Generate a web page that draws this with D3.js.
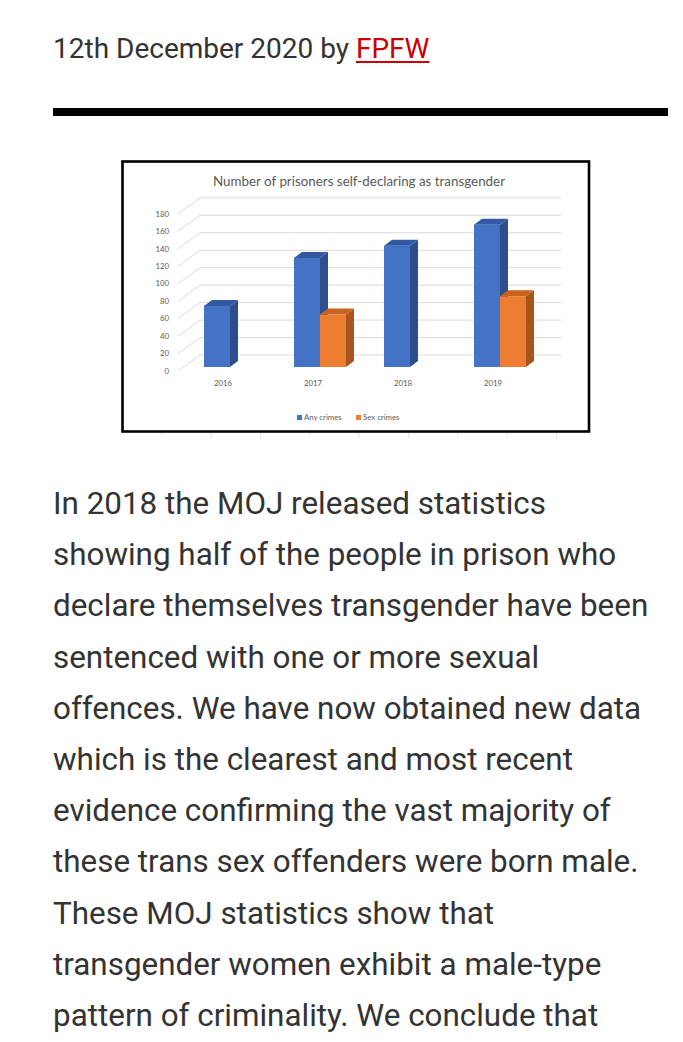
<!DOCTYPE html>
<html>
<head>
<meta charset="utf-8">
<script src="https://cdn.jsdelivr.net/npm/d3@7"></script>
<style>
  html, body { margin: 0; padding: 0; background: #fff; }
  body { width: 683px; height: 1042px; position: relative; overflow: hidden; font-family: Roboto, "Noto Sans", sans-serif; color: #333; }
  #meta { position: absolute; left: 53px; top: 31px; font-size: 28px; line-height: 36px; white-space: nowrap; }
  #meta a { color: #cc0000; text-decoration: underline; text-decoration-thickness: 2px; text-underline-offset: 3px; }
  #rule { position: absolute; left: 53px; top: 108px; width: 615px; height: 8px; background: #000; }
  #body { position: absolute; left: 53px; top: 478px; font-size: 31.4px; line-height: 51.2px; }
  #body div { white-space: nowrap; }
  #chart { position: absolute; left: 0; top: 0; }
</style>
</head>
<body>
<div id="meta">12th December 2020 by <a href="#">FPFW</a></div>
<div id="rule"></div>
<svg id="chart" width="683" height="460"></svg>
<div id="body"></div>
<script>
// chart data
const years = ["2016", "2017", "2018", "2019"];
const seriesNames = ["Any crimes", "Sex crimes"];
const anyCrimes = [70, 125, 139, 163];
const sexCrimes = [null, 60, null, 81];
const yTicks = [0, 20, 40, 60, 80, 100, 120, 140, 160, 180];

const bodyLines = [
  "In 2018 the MOJ released statistics",
  "showing half of the people in prison who",
  "declare themselves transgender have been",
  "sentenced with one or more sexual",
  "offences. We have now obtained new data",
  "which is the clearest and most recent",
  "evidence confirming the vast majority of",
  "these trans sex offenders were born male.",
  "These MOJ statistics show that",
  "transgender women exhibit a male-type",
  "pattern of criminality. We conclude that"
];

d3.select("#body").selectAll("div")
  .data(bodyLines)
  .enter().append("div")
  .text(d => d);

const svg = d3.select("#chart");
const font = "Lato, 'Open Sans', sans-serif";

// faint cell lines under the pasted image
svg.selectAll("line.cell")
  .data(d3.range(9))
  .enter().append("line")
  .attr("x1", i => 162 + i * 49.3).attr("x2", i => 162 + i * 49.3)
  .attr("y1", 433).attr("y2", 438)
  .attr("stroke", "#e3e3e3").attr("stroke-width", 1);

// image frame
svg.append("rect")
  .attr("x", 122.5).attr("y", 161.5)
  .attr("width", 466.5).attr("height", 270)
  .attr("fill", "#fff")
  .attr("stroke", "#000").attr("stroke-width", 2.6);

svg.append("text")
  .attr("x", 359).attr("y", 186)
  .attr("text-anchor", "middle")
  .attr("font-family", font).attr("font-size", 13)
  .attr("fill", "#595959")
  .attr("textLength", 292).attr("lengthAdjust", "spacingAndGlyphs")
  .text("Number of prisoners self-declaring as transgender");

// scales (bar plane); back wall is shifted up/right, labels shifted down/left
const y = d3.scaleLinear().domain([0, 180]).range([367, 367 - 180 * 0.873]);
const x = d3.scaleBand().domain(years).range([178, 538]);
const xs = d3.scaleBand().domain(seriesNames).range([0, 52]);
const backDy = -12, frontDy = 4;
const depthX = 8, depthY = -6;

// gridlines: diagonal on the side wall + horizontal on the back wall
const grid = svg.append("g").attr("stroke", "#d9d9d9").attr("stroke-width", 1).attr("fill", "none");
grid.selectAll("path")
  .data(yTicks)
  .enter().append("path")
  .attr("d", v => `M178,${y(v) + frontDy}L200,${y(v) + backDy}L561,${y(v) + backDy}`);

svg.append("g").selectAll("text")
  .data(yTicks)
  .enter().append("text")
  .attr("x", 169).attr("y", v => y(v) + frontDy)
  .attr("dy", "0.35em")
  .attr("text-anchor", "end")
  .attr("font-family", font).attr("font-size", 7.8)
  .attr("fill", "#595959")
  .text(d => d);

svg.append("g").selectAll("text")
  .data(years)
  .enter().append("text")
  .attr("x", d => x(d) + x.bandwidth() / 2)
  .attr("y", 383).attr("dy", "0.35em")
  .attr("text-anchor", "middle")
  .attr("font-family", font).attr("font-size", 7.8)
  .attr("fill", "#595959")
  .text(d => d);

// 3D bars
const colors = {
  "Any crimes": { front: "#4472c4", side: "#2e4d8c", top: "#3459a3" },
  "Sex crimes": { front: "#ed7d31", side: "#a8541c", top: "#c9641f" }
};

const bars = [];
years.forEach((yr, i) => {
  bars.push({ year: yr, key: "Any crimes", value: anyCrimes[i] });
  if (sexCrimes[i] != null) bars.push({ year: yr, key: "Sex crimes", value: sexCrimes[i] });
});

const bw = xs.bandwidth();
const barG = svg.append("g").selectAll("g")
  .data(bars)
  .enter().append("g");

function bx(d) { return x(d.year) + x.bandwidth() / 2 - 19 + xs(d.key); }

barG.append("rect")
  .attr("x", bx)
  .attr("y", d => y(d.value))
  .attr("width", bw)
  .attr("height", d => y(0) - y(d.value))
  .attr("fill", d => colors[d.key].front);

barG.append("path")
  .attr("fill", d => colors[d.key].side)
  .attr("d", d => {
    const r = bx(d) + bw, t = y(d.value), b = y(0);
    return `M${r},${t}L${r + depthX},${t + depthY}L${r + depthX},${b + depthY}L${r},${b}Z`;
  });

barG.append("path")
  .attr("fill", d => colors[d.key].top)
  .attr("d", d => {
    const l = bx(d), t = y(d.value);
    return `M${l},${t}L${l + depthX},${t + depthY}L${l + bw + depthX},${t + depthY}L${l + bw},${t}Z`;
  });

// legend
const legend = svg.append("g");
const legendX = [297, 356];
seriesNames.forEach((s, i) => {
  legend.append("rect")
    .attr("x", legendX[i]).attr("y", 415)
    .attr("width", 5).attr("height", 5)
    .attr("fill", colors[s].front);
  legend.append("text")
    .attr("x", legendX[i] + 7).attr("y", 417.5).attr("dy", "0.35em")
    .attr("font-family", font).attr("font-size", 7.8)
    .attr("fill", "#595959")
    .text(s);
});
</script>
</body>
</html>
